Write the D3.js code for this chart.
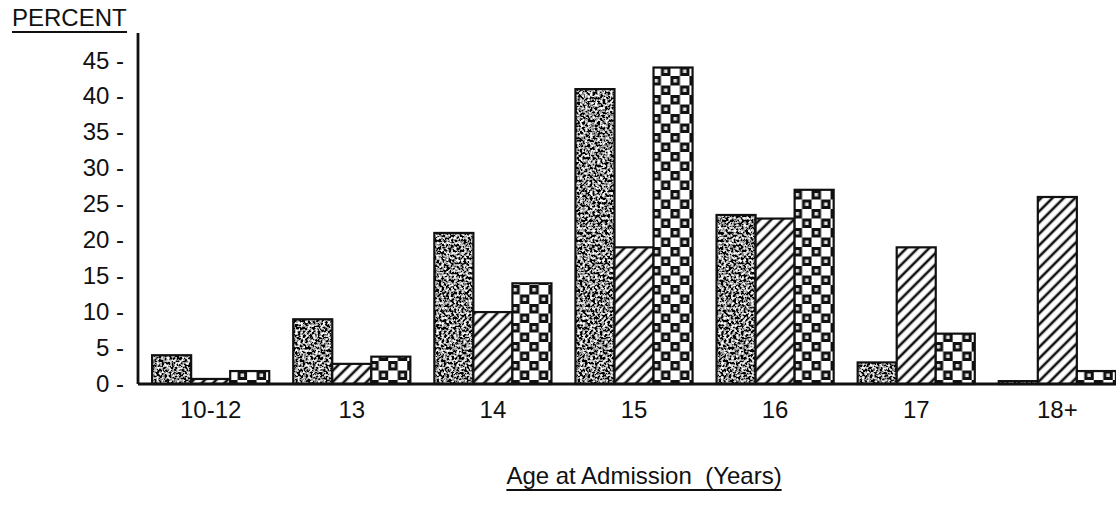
<!DOCTYPE html>
<html>
<head>
<meta charset="utf-8">
<script src="https://cdn.jsdelivr.net/npm/d3@7"></script>
<style>
  body { margin: 0; background: #fff; }
  text { font-family: "Liberation Sans", Arial, sans-serif; fill: #111; }
</style>
</head>
<body>
<script>
// age groups and percent per group (three series)
const ages = ["10-12", "13", "14", "15", "16", "17", "18+"];
const stippleVals = [4, 9, 21, 41, 23.5, 3, 0.4];
const hatchVals = [0.7, 2.8, 10, 19, 23, 19, 26];
const checkVals = [1.8, 3.8, 14, 44, 27, 7, 1.8];
const yTicks = [0, 5, 10, 15, 20, 25, 30, 35, 40, 45];

const seriesNames = ["stipple", "hatch", "check"];
const seriesVals = [stippleVals, hatchVals, checkVals];

const W = 1116, H = 505;
const svg = d3.select("body").append("svg")
    .attr("width", W)
    .attr("height", H);

const defs = svg.append("defs");

// grainy grey for first series
const grain = defs.append("filter")
    .attr("id", "grain")
    .attr("x", 0).attr("y", 0).attr("width", 1).attr("height", 1);
grain.append("feTurbulence")
    .attr("type", "fractalNoise")
    .attr("baseFrequency", 0.4)
    .attr("numOctaves", 4)
    .attr("seed", 7)
    .attr("result", "n");
grain.append("feColorMatrix")
    .attr("in", "n")
    .attr("type", "matrix")
    .attr("values", "3.4 0 0 0 -1.42  3.4 0 0 0 -1.42  3.4 0 0 0 -1.42  0 0 0 0 1")
    .attr("result", "g");
grain.append("feComposite")
    .attr("in", "g")
    .attr("in2", "SourceGraphic")
    .attr("operator", "in");

// diagonal hatch
const hatch = defs.append("pattern")
    .attr("id", "hatch")
    .attr("patternUnits", "userSpaceOnUse")
    .attr("width", 8).attr("height", 8)
    .attr("patternTransform", "rotate(45)");
hatch.append("rect").attr("width", 8).attr("height", 8).attr("fill", "#fff");
hatch.append("line")
    .attr("x1", 2).attr("y1", 0).attr("x2", 2).attr("y2", 8)
    .attr("stroke", "#111").attr("stroke-width", 2.6);

// checkerboard
const cs = 9.5;
const check = defs.append("pattern")
    .attr("id", "check")
    .attr("patternUnits", "userSpaceOnUse")
    .attr("width", cs * 2).attr("height", cs * 2);
check.append("rect").attr("width", cs * 2).attr("height", cs * 2).attr("fill", "#fff");
[[0, 0], [cs, cs]].forEach(([px, py]) => {
    check.append("rect").attr("x", px).attr("y", py)
        .attr("width", cs).attr("height", cs).attr("fill", "#111");
    check.append("rect").attr("x", px + 3).attr("y", py + 3)
        .attr("width", 3.5).attr("height", 3.5).attr("fill", "#ddd");
});

const fills = {stipple: "#777", hatch: "url(#hatch)", check: "url(#check)"};

// scales
const x0 = 138, yBase = 384;
const x = d3.scaleBand()
    .domain(ages)
    .range([x0, 1130])
    .paddingInner(0.17)
    .paddingOuter(0.1);
const xs = d3.scaleBand()
    .domain(seriesNames)
    .range([0, x.bandwidth()]);
const y = d3.scaleLinear()
    .domain([0, 48.8])
    .range([yBase, 33]);

// bars
const groups = svg.append("g").selectAll("g")
    .data(ages)
    .join("g")
    .attr("transform", d => `translate(${x(d)},0)`);

groups.selectAll("g.bar")
    .data((d, i) => seriesNames.map((s, k) => ({s, v: seriesVals[k][i]})))
    .join("g")
    .attr("class", "bar")
    .each(function(d) {
        const g = d3.select(this);
        const bx = xs(d.s), bw = xs.bandwidth();
        const by = y(d.v), bh = yBase - y(d.v);
        g.append("rect")
            .attr("x", bx).attr("y", by)
            .attr("width", bw).attr("height", bh)
            .attr("fill", fills[d.s])
            .attr("filter", d.s === "stipple" ? "url(#grain)" : null);
        g.append("rect")
            .attr("x", bx).attr("y", by)
            .attr("width", bw).attr("height", bh)
            .attr("fill", "none")
            .attr("stroke", "#111")
            .attr("stroke-width", 2.2);
    });

// y axis
const yAxis = svg.append("g")
    .attr("transform", `translate(${x0},0)`)
    .call(d3.axisLeft(y)
        .tickValues(yTicks)
        .tickSize(0)
        .tickPadding(14)
        .tickFormat(d => d + " -"));
yAxis.select(".domain").remove();
yAxis.selectAll("text")
    .attr("font-size", 24)
    .attr("font-family", "Liberation Sans, Arial, sans-serif");

svg.append("line")
    .attr("x1", x0).attr("x2", x0)
    .attr("y1", y(48.8)).attr("y2", yBase)
    .attr("stroke", "#111").attr("stroke-width", 2.8);

// x axis
const xAxis = svg.append("g")
    .attr("transform", `translate(0,${yBase})`)
    .call(d3.axisBottom(x).tickSize(0).tickPadding(17));
xAxis.select(".domain").remove();
xAxis.selectAll("text")
    .attr("font-size", 24)
    .attr("font-family", "Liberation Sans, Arial, sans-serif");

svg.append("line")
    .attr("x1", x0).attr("x2", W)
    .attr("y1", yBase).attr("y2", yBase)
    .attr("stroke", "#111").attr("stroke-width", 2.8);

// titles with underline
function underlined(tx, ty, label, anchor) {
    const t = svg.append("text")
        .attr("x", tx).attr("y", ty)
        .attr("text-anchor", anchor)
        .attr("font-size", 24)
        .style("white-space", "pre")
        .text(label);
    const b = t.node().getBBox();
    svg.append("line")
        .attr("x1", b.x).attr("x2", b.x + b.width)
        .attr("y1", ty + 6).attr("y2", ty + 6)
        .attr("stroke", "#111").attr("stroke-width", 1.8);
}
underlined(12, 26, "PERCENT", "start");
underlined(x("15") + x.bandwidth() / 2 + 10, 484, "Age at Admission  (Years)", "middle");
</script>
</body>
</html>
